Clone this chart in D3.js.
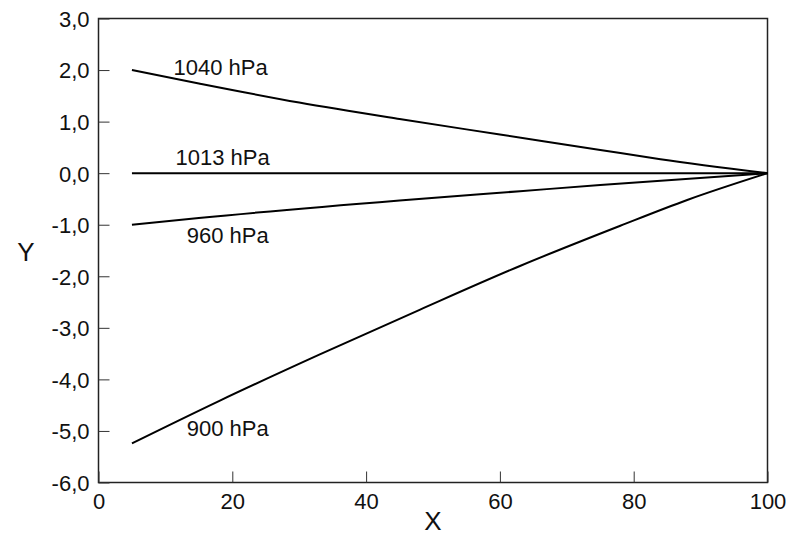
<!DOCTYPE html>
<html>
<head>
<meta charset="utf-8">
<script src="https://cdn.jsdelivr.net/npm/d3@7"></script>
<style>
  html, body { margin: 0; padding: 0; background: #fff; }
  svg { display: block; font-family: "Liberation Sans", Arial, sans-serif; }
</style>
</head>
<body>
<svg id="chart" width="787" height="537"></svg>
<script>
// Pressure curves: X vs Y for several reference pressures
const xTicks = [0, 20, 40, 60, 80, 100];
const yTicks = [-6, -5, -4, -3, -2, -1, 0, 1, 2, 3];

const x1040 = [5, 15, 30, 45, 60, 75, 84, 100];
const y1040 = [2.00, 1.74, 1.37, 1.05, 0.75, 0.45, 0.27, 0.00];

const x1013 = [5, 100];
const y1013 = [0.00, 0.00];

const x960 = [5, 15, 45, 63, 75, 100];
const y960 = [-1.00, -0.87, -0.53, -0.35, -0.23, 0.00];

const x900 = [5, 18, 33, 48, 63, 78, 88, 100];
const y900 = [-5.24, -4.42, -3.52, -2.65, -1.80, -1.02, -0.52, 0.00];

const seriesNames = ["1040 hPa", "1013 hPa", "960 hPa", "900 hPa"];
// label anchors (data units) for each curve's name
const labelX = [11.2, 11.5, 13.2, 13.2];
const labelY = [1.91, 0.16, -1.35, -5.10];

const series = [
  { name: seriesNames[0], xs: x1040, ys: y1040 },
  { name: seriesNames[1], xs: x1013, ys: y1013 },
  { name: seriesNames[2], xs: x960, ys: y960 },
  { name: seriesNames[3], xs: x900, ys: y900 }
];

const svg = d3.select("#chart");
const margin = { left: 98.5, right: 19.5, top: 18.5, bottom: 54.5 };
const W = 787, H = 537;
const FS = 22;

const x = d3.scaleLinear().domain([0, 100]).range([margin.left, W - margin.right]);
const y = d3.scaleLinear().domain([-6, 3]).range([H - margin.bottom, margin.top]);

const fmtY = v => d3.format(".1f")(v).replace(".", ",").replace("−", "-");

// frame
svg.append("rect")
  .attr("x", x(0)).attr("y", y(3))
  .attr("width", x(100) - x(0)).attr("height", y(-6) - y(3))
  .attr("fill", "none").attr("stroke", "#222").attr("stroke-width", 1.5);

// left axis with inward ticks
const gy = svg.append("g")
  .attr("transform", `translate(${x(0)},0)`)
  .call(d3.axisLeft(y).tickValues(yTicks).tickFormat(fmtY).tickSizeInner(-11).tickSizeOuter(0));
gy.select(".domain").remove();
gy.selectAll(".tick line").attr("stroke", "#333").attr("stroke-width", 1);
gy.selectAll(".tick text")
  .attr("font-size", FS).attr("fill", "#111")
  .attr("x", -9).attr("dy", "0.36em");

// bottom axis with inward ticks
const gx = svg.append("g")
  .attr("transform", `translate(0,${y(-6)})`)
  .call(d3.axisBottom(x).tickValues(xTicks).tickFormat(d3.format("d")).tickSizeInner(-11).tickSizeOuter(0));
gx.select(".domain").remove();
gx.selectAll(".tick line").attr("stroke", "#333").attr("stroke-width", 1);
gx.selectAll(".tick text")
  .attr("font-size", FS).attr("fill", "#111")
  .attr("y", 26).attr("dy", 0);

// curves
const line = d3.line()
  .x(d => x(d[0]))
  .y(d => y(d[1]))
  .curve(d3.curveMonotoneX);

svg.append("g").selectAll("path")
  .data(series)
  .join("path")
  .attr("d", s => line(s.xs.map((v, i) => [v, s.ys[i]])))
  .attr("fill", "none")
  .attr("stroke", "#000")
  .attr("stroke-width", 2);

// curve names
svg.append("g").selectAll("text")
  .data(series)
  .join("text")
  .attr("x", (s, i) => x(labelX[i]))
  .attr("y", (s, i) => y(labelY[i]))
  .attr("font-size", FS)
  .attr("fill", "#111")
  .text(s => s.name);

// axis titles
svg.append("text")
  .attr("x", (x(0) + x(100)) / 2).attr("y", 530)
  .attr("text-anchor", "middle")
  .attr("font-size", 26).attr("fill", "#111")
  .text("X");

svg.append("text")
  .attr("x", 26).attr("y", 261)
  .attr("text-anchor", "middle")
  .attr("font-size", 26).attr("fill", "#111")
  .text("Y");
</script>
</body>
</html>
